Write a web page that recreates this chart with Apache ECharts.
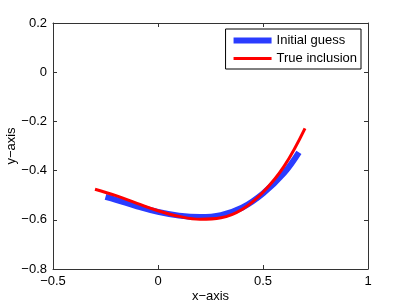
<!DOCTYPE html>
<html>
<head>
<meta charset="utf-8">
<script src="https://cdn.jsdelivr.net/npm/echarts@6/dist/echarts.min.js"></script>
<style>html,body{margin:0;padding:0;background:#fff}#c{width:407px;height:307px}</style>
</head>
<body>
<div id="c"></div>
<script>
var guessX = [-0.25, -0.2, -0.1, 0, 0.1, 0.2, 0.3, 0.4, 0.5, 0.6, 0.671];
var guessY = [-0.507, -0.519, -0.545, -0.568, -0.583, -0.589, -0.581, -0.551, -0.493, -0.41, -0.326];
var trueX = [-0.3, -0.2, -0.1, 0, 0.1, 0.2, 0.3, 0.4, 0.5, 0.6, 0.7];
var trueY = [-0.476, -0.502, -0.533, -0.563, -0.586, -0.598, -0.592, -0.558, -0.488, -0.383, -0.228];
var seriesNames = ['Initial guess', 'True inclusion'];
var xTicks = [-0.5, 0, 0.5, 1];
var yTicks = [-0.8, -0.6, -0.4, -0.2, 0, 0.2];

function pairs(xs, ys) { return xs.map(function (x, i) { return [x, ys[i]]; }); }
function fmt(v) { return String(Math.round(v * 10) / 10).replace('-', '\u2212'); }

var font = 'Liberation Sans, Arial, Helvetica, sans-serif';
var axisLine = { show: true, onZero: false, lineStyle: { color: '#333', width: 1 } };
var tick = { show: true, inside: true, length: 4, lineStyle: { color: '#333' } };

var chart = echarts.init(document.getElementById('c'), null, { renderer: 'canvas' });
chart.setOption({
  animation: false,
  backgroundColor: '#fff',
  grid: { left: 53, right: 39, top: 23, bottom: 38, containLabel: false, outerBoundsMode: 'none' },
  xAxis: [{
    type: 'value', min: xTicks[0], max: xTicks[xTicks.length - 1], interval: 0.5,
    position: 'bottom',
    name: 'x\u2212axis', nameLocation: 'middle', nameGap: 21, nameMoveOverlap: false,
    nameTextStyle: { fontFamily: font, fontSize: 13, color: '#000' },
    axisLine: axisLine, axisTick: tick, splitLine: { show: false },
    axisLabel: { margin: 6, fontFamily: font, fontSize: 13, color: '#000', formatter: fmt }
  }, {
    type: 'value', min: xTicks[0], max: xTicks[xTicks.length - 1], interval: 0.5,
    position: 'top', axisLine: axisLine, axisTick: tick, splitLine: { show: false },
    axisLabel: { show: false }
  }],
  yAxis: [{
    type: 'value', min: yTicks[0], max: yTicks[yTicks.length - 1], interval: 0.2,
    position: 'left',
    name: 'y\u2212axis', nameLocation: 'middle', nameGap: 42, nameRotate: 90, nameMoveOverlap: false,
    nameTextStyle: { fontFamily: font, fontSize: 13, color: '#000', verticalAlign: 'middle' },
    axisLine: axisLine, axisTick: tick, splitLine: { show: false },
    axisLabel: { margin: 6, fontFamily: font, fontSize: 13, color: '#000', formatter: fmt }
  }, {
    type: 'value', min: yTicks[0], max: yTicks[yTicks.length - 1], interval: 0.2,
    position: 'right', axisLine: axisLine, axisTick: tick, splitLine: { show: false },
    axisLabel: { show: false }
  }],
  legend: {
    orient: 'vertical', right: 46, top: 29,
    backgroundColor: '#fff', borderColor: '#000', borderWidth: 1,
    padding: [5, 4, 4, 8], itemGap: 5, itemWidth: 38, itemHeight: 11,
    textStyle: { fontFamily: font, fontSize: 13, color: '#000' },
    data: [
      { name: seriesNames[0], icon: 'path://M0,0H38V6H0Z' },
      { name: seriesNames[1], icon: 'path://M0,0H38V3H0Z' }
    ]
  },
  series: [{
    name: seriesNames[0], type: 'line', data: pairs(guessX, guessY),
    smooth: 0.4, symbol: 'none', showSymbol: false,
    lineStyle: { color: '#2a3cff', width: 6, cap: 'butt' }, itemStyle: { color: '#2a3cff' }
  }, {
    name: seriesNames[1], type: 'line', data: pairs(trueX, trueY),
    smooth: 0.4, symbol: 'none', showSymbol: false,
    lineStyle: { color: '#ff0000', width: 3 }, itemStyle: { color: '#ff0000' }
  }]
});
</script>
</body>
</html>
